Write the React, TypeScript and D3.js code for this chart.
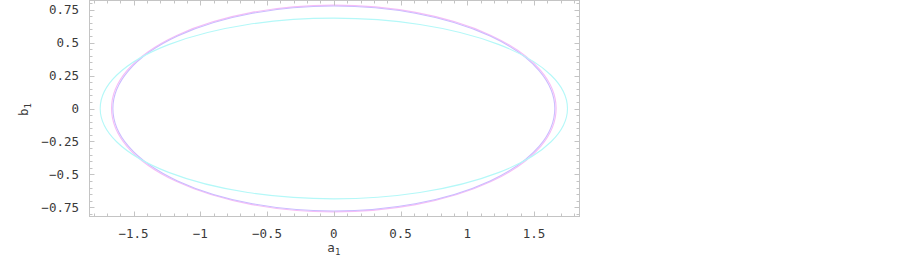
import React from 'react';
import * as d3 from 'd3';

// contour curves: semi-axes in a1 / b1 units
const curveNames = ['magenta', 'violet', 'cyan'];
const curveRadiusA = [1.665, 1.655, 1.75];
const curveRadiusB = [0.785, 0.778, 0.686];
const curveColors = ['#f6bdf6', '#cbbcff', '#b4f8f8'];

const xTicks = [-1.5, -1, -0.5, 0, 0.5, 1, 1.5];
const xTickLabels = ['\u22121.5', '\u22121', '\u22120.5', '0', '0.5', '1', '1.5'];
const yTicks = [-0.75, -0.5, -0.25, 0, 0.25, 0.5, 0.75];
const yTickLabels = ['\u22120.75', '\u22120.5', '\u22120.25', '0', '0.25', '0.5', '0.75'];

const W = 902;
const H = 258;
const FONT = '"DejaVu Sans Mono", monospace';

function Plot() {
    const x = d3.scaleLinear().domain([-1.83, 1.84]).range([89.5, 579.5]);
    const y = d3.scaleLinear().domain([-0.82, 0.82]).range([216.5, 0.5]);

    const [x0, x1] = x.range();
    const [y0, y1] = y.range();

    // minor ticks every 0.1 on a1 and 0.05 on b1
    const xMinor = d3.range(-18, 19).map(i => i / 10).filter(v => !xTicks.includes(v));
    const yMinor = d3.range(-16, 17).map(i => i / 20).filter(v => !yTicks.includes(v));

    const tickColor = '#c4c4c4';

    return (
        <svg width={W} height={H} style={{ position: 'absolute', left: 0, top: 0, display: 'block' }}>
            <rect width={W} height={H} fill="#fff" />
            {/* curves */}
            <g fill="none" strokeWidth={1.1}>
                {curveNames.map((n, i) => (
                    <ellipse
                        key={n}
                        cx={x(0)}
                        cy={y(0)}
                        rx={x(curveRadiusA[i]) - x(0)}
                        ry={y(0) - y(curveRadiusB[i])}
                        stroke={curveColors[i]}
                    />
                ))}
            </g>
            {/* frame */}
            <rect x={x0} y={y1} width={x1 - x0} height={y0 - y1} fill="none" stroke={tickColor} strokeWidth={1} />
            <g stroke={tickColor} strokeWidth={1}>
                {xTicks.map(v => (
                    <g key={'xm' + v}>
                        <line x1={Math.round(x(v)) + 0.5} x2={Math.round(x(v)) + 0.5} y1={y0} y2={y0 - 5} />
                        <line x1={Math.round(x(v)) + 0.5} x2={Math.round(x(v)) + 0.5} y1={y1} y2={y1 + 5} />
                    </g>
                ))}
                {xMinor.map(v => (
                    <g key={'xn' + v}>
                        <line x1={Math.round(x(v)) + 0.5} x2={Math.round(x(v)) + 0.5} y1={y0} y2={y0 - 3} />
                        <line x1={Math.round(x(v)) + 0.5} x2={Math.round(x(v)) + 0.5} y1={y1} y2={y1 + 3} />
                    </g>
                ))}
                {yTicks.map(v => (
                    <g key={'ym' + v}>
                        <line x1={x0} x2={x0 + 5} y1={Math.round(y(v)) + 0.5} y2={Math.round(y(v)) + 0.5} />
                        <line x1={x1} x2={x1 - 5} y1={Math.round(y(v)) + 0.5} y2={Math.round(y(v)) + 0.5} />
                    </g>
                ))}
                {yMinor.map(v => (
                    <g key={'yn' + v}>
                        <line x1={x0} x2={x0 + 3} y1={Math.round(y(v)) + 0.5} y2={Math.round(y(v)) + 0.5} />
                        <line x1={x1} x2={x1 - 3} y1={Math.round(y(v)) + 0.5} y2={Math.round(y(v)) + 0.5} />
                    </g>
                ))}
            </g>
            {/* tick labels */}
            <g fontFamily={FONT} fontSize={12.5} fill="#3a3a3a">
                {xTicks.map((v, i) => (
                    <text key={'xl' + v} x={x(v)} y={238} textAnchor="middle">{xTickLabels[i]}</text>
                ))}
                {yTicks.map((v, i) => (
                    <text key={'yl' + v} x={79} y={y(v) + 4.5} textAnchor="end">{yTickLabels[i]}</text>
                ))}
            </g>
            {/* axis labels */}
            <text x={x(0)} y={252} textAnchor="middle" fontFamily={FONT} fontSize={12.5} fill="#3a3a3a">
                a<tspan fontSize={9} dy={3}>1</tspan>
            </text>
            <text transform={`translate(28,${y(0) + 1}) rotate(-90)`} textAnchor="middle" fontFamily={FONT} fontSize={12.5} fill="#3a3a3a">
                b<tspan fontSize={9} dy={3}>1</tspan>
            </text>
        </svg>
    );
}

export default function App() {
    return <Plot />;
}
